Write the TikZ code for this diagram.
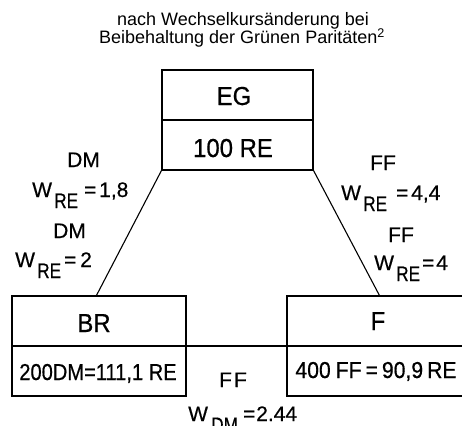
\documentclass[tikz,border=0pt]{standalone}
\usepackage{fontspec}
\setmainfont{Liberation Sans}
\newfontfamily\dinf[FakeStretch=0.92,FakeBold=0.6]{Liberation Sans}
\newfontfamily\labf[FakeBold=0.5]{Liberation Sans}
\begin{document}
\begin{tikzpicture}[x=1pt,y=-1pt,
  box/.style={draw, line width=1.1pt, inner sep=0pt},
  head/.style={font=\dinf\fontsize{26}{26}\selectfont, inner sep=0pt, anchor=base},
  val/.style={font=\dinf\fontsize{23}{23}\selectfont, inner sep=0pt, anchor=base},
  lab/.style={font=\labf\fontsize{21}{21}\selectfont, inner sep=0pt, anchor=base west},
  sub/.style={font=\labf\fontsize{21}{21}\selectfont, inner sep=0pt, anchor=base west, xscale=1},
  conn/.style={line width=1.1pt},
  ttl/.style={font=\fontsize{18}{18}\selectfont, inner sep=0pt, anchor=base}]
\useasboundingbox (0,0) rectangle (462,425);
\clip (0,0) rectangle (462,425);
% title
\node[ttl] (t1) at (243,26) {nach Wechselkursänderung bei};
\node[ttl] (t2) at (242,44) {Beibehaltung der Grünen Paritäten\textsuperscript{2}};
% boxes
\node[box, minimum width=151pt, minimum height=100pt] (eg) at (237.5,120) {};
\node[box, minimum width=174pt, minimum height=100pt] (br) at (99,346) {};
\node[box, minimum width=190pt, minimum height=100pt] (f) at (382,346) {};
\draw[conn] (eg.west) -- (eg.east);
\draw[conn] (br.west) -- (f.east);
% box texts
\node[head] (egt) at (234,105) {EG};
\node[head] (egv) at (233,157) {100 RE};
\node[head] (brt) at (94,332) {BR};
\node[val] (brv) at (98,380) {\scalebox{0.95}[1]{200DM=111,1 RE}};
\node[head] (ft) at (378,330) {F};
\node[val] (fv) at (376,378) {400\hspace{5pt}FF\hspace{4pt}=\hspace{4pt}90,9\hspace{4pt}RE};
% connectors
\draw[conn] (eg.south west) -- ([xshift=85pt]br.north west);
\draw[conn] (eg.south east) -- ([xshift=93pt]f.north west);
% left labels
\node[lab] (l1) at (67,167) {DM};
\node[lab] (l2w) at (32,197) {W};
\node[sub] (l2s) at (54,208) {\scalebox{0.82}[1]{RE}};
\node[lab] (l2e) at (84,197) {=};
\node[lab] (l2v) at (99,197) {1,8};
\node[lab] (l3) at (53,238) {DM};
\node[lab] (l4w) at (15,267) {W};
\node[sub] (l4s) at (37,278) {\scalebox{0.82}[1]{RE}};
\node[lab] (l4e) at (64,267) {=};
\node[lab] (l4v) at (80,267) {2};
% right labels
\node[lab] (r1) at (370,170) {FF};
\node[lab] (r2w) at (341,200) {W};
\node[sub] (r2s) at (363,211) {\scalebox{0.82}[1]{RE}};
\node[lab] (r2e) at (396,200) {=};
\node[lab] (r2v) at (411,200) {4,4};
\node[lab] (r3) at (388,242) {FF};
\node[lab] (r4w) at (374,270) {W};
\node[sub] (r4s) at (396,281) {\scalebox{0.82}[1]{RE}};
\node[lab] (r4e) at (422,270) {=};
\node[lab] (r4v) at (436,270) {4};
% bottom label
\node[lab] (b1) at (219,387) {F\hspace{2pt}F};
\node[lab] (b2w) at (188,421) {W};
\node[sub] (b2s) at (211,432) {\scalebox{0.82}[1]{DM}};
\node[lab] (b2e) at (243,421) {=};
\node[lab] (b2v) at (256,421) {2.44};
\end{tikzpicture}
\end{document}
